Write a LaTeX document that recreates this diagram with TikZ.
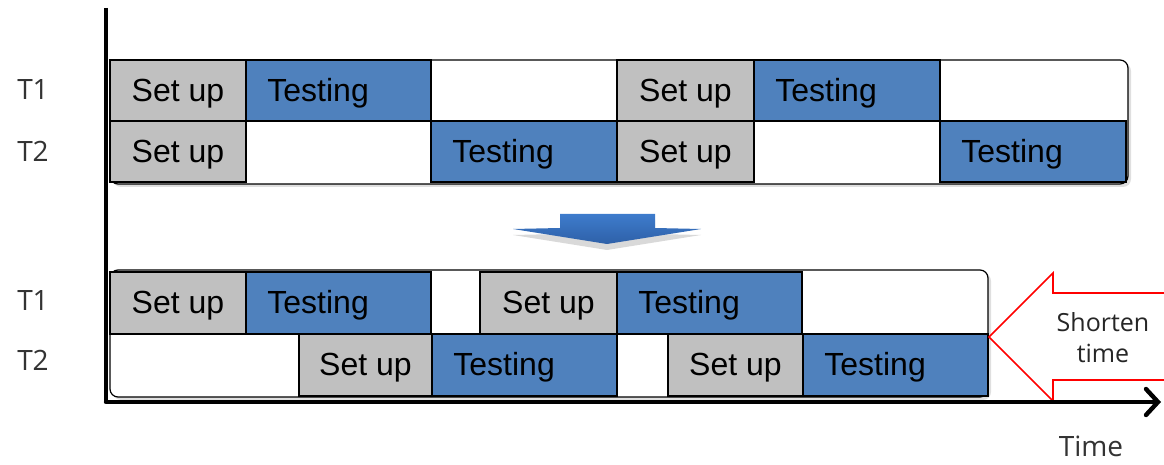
\documentclass[tikz,border=0pt]{standalone}
\usepackage{fontspec}
\setmainfont{Liberation Sans}
\newfontfamily\labelfont{Open Sans}
\usetikzlibrary{arrows.meta, shadows}
\definecolor{setgray}{RGB}{192,192,192}
\definecolor{testblue}{RGB}{79,129,189}
\definecolor{arrowtop}{RGB}{62,124,204}
\definecolor{arrowbot}{RGB}{46,96,168}

\begin{document}
\begin{tikzpicture}[x=0.5pt, y=-0.5pt,
		setbox/.style={fill=setgray, draw=black, line width=0.8pt},
		testbox/.style={fill=testblue, draw=black, line width=0.8pt},
		boxtext/.style={font=\fontsize{16}{18}\selectfont, inner sep=0pt},
		rowlabel/.style={font=\labelfont\fontsize{14}{16}\selectfont, text=black!80, inner sep=0pt},
		panel/.style={draw=black, line width=0.6pt, fill=white, rounded corners=4pt,
			drop shadow={shadow xshift=1.5pt, shadow yshift=-1.5pt, opacity=0.25}}]
	
	\useasboundingbox (0,0) rectangle (1164,465);
	
	% before / after panels
	\draw[panel] (110,60) rectangle (1128,184);
	\draw[panel] (110,270) rectangle (988,397);
	
	% set up boxes: x from / x to / row top / row bottom
	\foreach \xa/\xb/\ya/\yb/\n in {110/246/60/121/1, 617/754/60/121/2, 110/246/121/182/3, 617/754/121/182/4,
		110/246/272/334/5, 480/617/272/334/6, 299/432/334/396/7, 668/803/334/396/8}
	{
		\draw[setbox] (\xa,\ya) rectangle (\xb,\yb);
		\node[boxtext, anchor=base] (setup\n) at ({(\xa+\xb)/2},{(\ya+\yb)/2+11}) {Set up};
	}
	
	% testing boxes
	\foreach \xa/\xb/\ya/\yb/\n in {246/431/60/121/1, 754/940/60/121/2, 431/617/121/182/3, 940/1126/121/182/4,
		246/431/272/334/5, 617/802/272/334/6, 432/617/334/396/7, 803/988/334/396/8}
	{
		\draw[testbox] (\xa,\ya) rectangle (\xb,\yb);
		\node[boxtext, anchor=base west] (test\n) at (\xa+21,{(\ya+\yb)/2+11}) {Testing};
	}
	
	% row labels
	\node[rowlabel, anchor=base] (topone) at (33,100) {T1};
	\node[rowlabel, anchor=base] (toptwo) at (33,162) {T2};
	\node[rowlabel, anchor=base] (botone) at (33,311) {T1};
	\node[rowlabel, anchor=base] (bottwo) at (33,371) {T2};
	
	% blue arrow between panels
	\shade[top color=arrowtop, bottom color=arrowbot,
		drop shadow={shadow xshift=0pt, shadow yshift=-3pt, opacity=0.3}]
		(560,214) -- (655,214) -- (655,228) -- (701,229) -- (607,244) -- (513,229) -- (560,228) -- cycle;
	
	% shorten time arrow
	\draw[red, line width=0.8pt, fill=white]
		(1165,293) -- (1053,293) -- (1053,273) -- (989,337) -- (1053,401) -- (1053,380) -- (1165,380);
	\node[font=\labelfont\fontsize{12.5}{15.5}\selectfont, align=center, text=black!85] (shorten) at (1103,338) {Shorten\\time};
	
	% axes
	\coordinate (ytop) at (106,8);
	\coordinate (origin) at (106,402);
	\coordinate (xend) at (1161,402);
	\draw[line width=2pt] (ytop) -- (origin);
	\draw[line width=2.2pt, line cap=round, -{Straight Barb[length=6pt, width=13pt, line cap=round]}] (origin) -- (xend);
	\node[rowlabel, anchor=base] (time) at (1091,456) {Time};
	
\end{tikzpicture}
\end{document}
